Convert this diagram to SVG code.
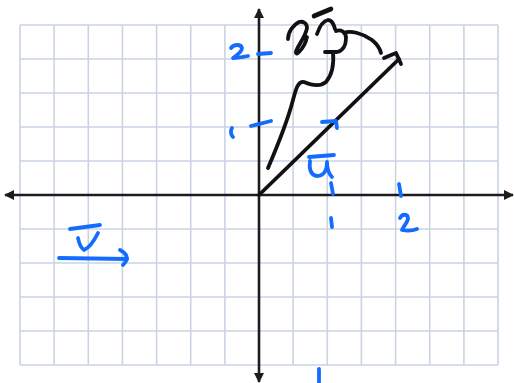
<svg xmlns="http://www.w3.org/2000/svg" width="514" height="383" viewBox="0 0 514 383">
  <style>
    .grid line { stroke: #c9d3e4; stroke-width: 1.6; }
    .axis { stroke: #1c1c1c; stroke-width: 2.6; fill: none; }
    .ink { stroke: #111; stroke-width: 3.8; fill: none; stroke-linecap: round; stroke-linejoin: round; }
    .blue { stroke: #146cff; stroke-width: 3.8; fill: none; stroke-linecap: round; stroke-linejoin: round; }
  </style>
  <defs>
    <marker id="ah" viewBox="0 0 10 10" refX="9" refY="5" markerWidth="11" markerHeight="10" markerUnits="userSpaceOnUse" orient="auto">
      <path d="M0,0 L10,5 L0,10 Z" fill="#1c1c1c"/>
    </marker>
  </defs>
  <rect width="514" height="383" fill="#ffffff"/>
  <g id="grid" class="grid">
    <line x1="20" y1="25" x2="20" y2="365"/>
    <line x1="54.1" y1="25" x2="54.1" y2="365"/>
    <line x1="88.3" y1="25" x2="88.3" y2="365"/>
    <line x1="122.4" y1="25" x2="122.4" y2="365"/>
    <line x1="156.6" y1="25" x2="156.6" y2="365"/>
    <line x1="190.7" y1="25" x2="190.7" y2="365"/>
    <line x1="224.9" y1="25" x2="224.9" y2="365"/>
    <line x1="293.1" y1="25" x2="293.1" y2="365"/>
    <line x1="327.3" y1="25" x2="327.3" y2="365"/>
    <line x1="361.4" y1="25" x2="361.4" y2="365"/>
    <line x1="395.6" y1="25" x2="395.6" y2="365"/>
    <line x1="429.7" y1="25" x2="429.7" y2="365"/>
    <line x1="463.9" y1="25" x2="463.9" y2="365"/>
    <line x1="498" y1="25" x2="498" y2="365"/>
    <line x1="20" y1="25" x2="498" y2="25"/>
    <line x1="20" y1="59" x2="498" y2="59"/>
    <line x1="20" y1="93" x2="498" y2="93"/>
    <line x1="20" y1="127" x2="498" y2="127"/>
    <line x1="20" y1="161" x2="498" y2="161"/>
    <line x1="20" y1="229" x2="498" y2="229"/>
    <line x1="20" y1="263" x2="498" y2="263"/>
    <line x1="20" y1="297" x2="498" y2="297"/>
    <line x1="20" y1="331" x2="498" y2="331"/>
    <line x1="20" y1="365" x2="498" y2="365"/>
  </g>
  <g id="axes">
    <line class="axis" x1="259" y1="195" x2="513" y2="195" marker-end="url(#ah)"/>
    <line class="axis" x1="259" y1="195" x2="5" y2="195" marker-end="url(#ah)"/>
    <line class="axis" x1="259" y1="195" x2="259" y2="9" marker-end="url(#ah)"/>
    <line class="axis" x1="259" y1="195" x2="259" y2="382" marker-end="url(#ah)"/>
  </g>
  <g id="vector-u">
    <path class="ink" d="M259,195 L399,59"/>
    <path class="ink" d="M384,58 L396,53 L401,64"/>
  </g>
  <g id="partial-note">
    <path class="ink" d="M314,16 L331,9" style="stroke-width:4.6"/>
    <path class="ink" d="M288,39 C288,32 293,25 299,22 C303,21 307,23 307,28 C306,35 300,43 297,49 C295,53 296,55 299,52 C303,48 306,42 307,37"/>
    <path class="ink" d="M317,34 C319,28 323,21 328,20 C332,20 334,25 335,29"/>
    <path class="ink" d="M336,31 C341,29 346,32 346,38 C346,45 343,51 337,52 L325,52"/>
    <path class="ink" d="M344,33 C350,30 362,33 372,40 C377,44 380,49 381,53"/>
    <path class="ink" d="M333,52 C334,63 332,75 326,82 C320,87 311,85 304,82 C298,81 296,89 293,100 C287,123 277,147 268,168"/>
  </g>
  <g id="labels" class="blue">
    <path d="M231,48 C234,44 241,44 242,48 C242,52 236,56 233,58 C238,58 243,57 248,56"/>
    <path d="M258,54 L271,53"/>
    <path d="M232,128 C230,131 231,135 233,137"/>
    <path d="M251,126 L271,121"/>
    <path d="M331,183 L333,194"/>
    <path d="M399,184 L401,196"/>
    <path d="M331,218 L332,227"/>
    <path d="M400,218 C402,214 408,213 408,219 C407,223 403,227 402,230 C407,231 412,231 417,229"/>
    <path d="M319,369 L319,383"/>
    <path d="M322,122 L336,121 L337,128"/>
    <path d="M309,157 L334,155"/>
    <path d="M310,161 C309,168 310,175 317,176 C324,176 327,170 327,162 C327,169 329,174 332,177"/>
    <path d="M70,229 L100,225"/>
    <path d="M78,238 C79,243 81,248 84,250 C89,248 94,241 98,233"/>
    <path d="M59,258 L127,259"/>
    <path d="M120,250 C124,252 127,255 127,259 C126,262 124,264 123,265"/>
  </g>
</svg>
